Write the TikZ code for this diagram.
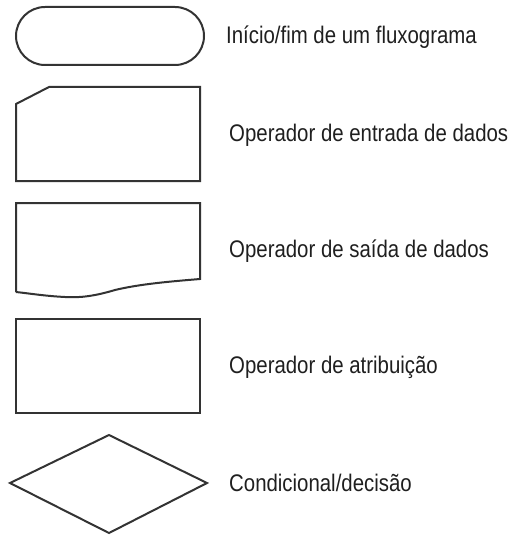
\documentclass[tikz,border=0pt]{standalone}
\usepackage{fontspec}
\setmainfont{Liberation Sans}[FakeStretch=0.85]
\begin{document}
\begin{tikzpicture}[x=1pt,y=-1pt,
  shapeline/.style={draw=black!80, line width=2pt, line join=miter},
  lbl/.style={anchor=base west, inner sep=0pt, text=black!88, font=\fontsize{24}{27}\selectfont}]
\useasboundingbox (0,0) rectangle (516,540);
% terminal
\draw[shapeline, rounded corners=29pt] (16,7) rectangle (204,65);
% input
\draw[shapeline] (49,87) -- (200,87) -- (200,181) -- (16,181) -- (16,104) -- cycle;
% output
\draw[shapeline] (16,292) -- (16,203) -- (200,203) -- (200,279)
  .. controls (170,281.5) and (140,284) .. (115,290)
  .. controls (95,296) and (80,298) .. (65,297)
  .. controls (45,296) and (30,293.5) .. (16,292);
% assignment
\draw[shapeline] (16,319) rectangle (200,413);
% decision
\draw[shapeline] (109,435) -- (207,483) -- (109,533) -- (10,483) -- cycle;
% labels
\node[lbl] (t1) at (226,44) {Início/fim de um fluxograma};
\node[lbl] (t2) at (229,141.7) {Operador de entrada de dados};
\node[lbl] (t3) at (229,257.7) {Operador de saída de dados};
\node[lbl] (t4) at (229,373.3) {Operador de atribuição};
\node[lbl] (t5) at (229,491) {Condicional/decisão};
\end{tikzpicture}
\end{document}
